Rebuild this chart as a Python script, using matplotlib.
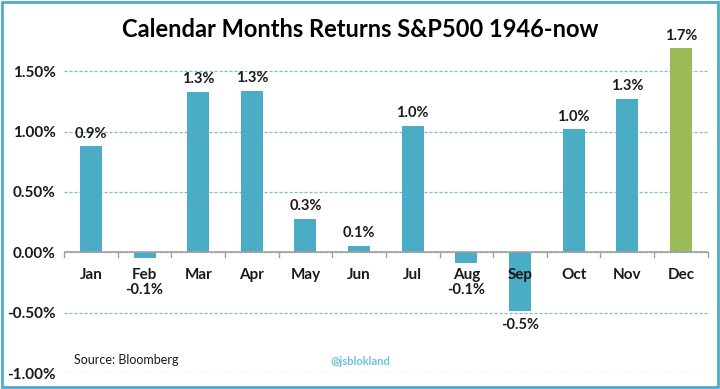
import matplotlib
matplotlib.use('Agg')
import matplotlib.pyplot as plt
from matplotlib.patches import Rectangle

months = ['Jan', 'Feb', 'Mar', 'Apr', 'May', 'Jun', 'Jul', 'Aug', 'Sep', 'Oct', 'Nov', 'Dec']
returns = [0.88, -0.05, 1.33, 1.34, 0.28, 0.055, 1.05, -0.09, -0.49, 1.02, 1.27, 1.69]
labels = ['0.9%', '-0.1%', '1.3%', '1.3%', '0.3%', '0.1%', '1.0%', '-0.1%', '-0.5%', '1.0%', '1.3%', '1.7%']
yticks = [-1.0, -0.5, 0.0, 0.5, 1.0, 1.5]
ytick_labels = ['-1.00%', '-0.50%', '0.00%', '0.50%', '1.00%', '1.50%']

plt.rcParams['font.family'] = ['Lato', 'DejaVu Sans']
blue = '#4BACC6'
green = '#9BBB59'

fig = plt.figure(figsize=(7.2, 3.89), dpi=100)
ax = fig.add_axes([0.089, 0.041, 0.894, 0.869])

colors = [blue] * 11 + [green]
x = list(range(len(months)))
ax.bar(x, returns, width=0.41, color=colors, zorder=3)

ax.set_xlim(-0.5, 11.5)
ax.set_ylim(-1.0, 1.8)
ax.set_yticks(yticks)
ax.set_yticklabels(ytick_labels, fontsize=11, fontweight='bold', color='#1a1a1a')
for t in yticks:
    ax.axhline(t, color='#7cbcd0', lw=0.9, ls=(0, (2.5, 1.5)), zorder=1)
ax.axhline(0, color='#a0a0a0', lw=1.2, zorder=4)

ax.set_xticks([])
for b in range(13):
    ax.plot([b - 0.5, b - 0.5], [0, -0.04], color='#a0a0a0', lw=1, zorder=4, clip_on=False)
for i, m in enumerate(months):
    ax.text(i, -0.13, m, ha='center', va='top', fontsize=11, fontweight='bold', color='#1a1a1a', zorder=5)

for i, (v, lab) in enumerate(zip(returns, labels)):
    if v >= 0:
        ax.annotate(lab, (i, v), xytext=(0, 4), textcoords='offset points',
                    ha='center', va='bottom', fontsize=10.5, fontweight='bold', color='#1a1a1a')
    else:
        ax.annotate(lab, (i, min(v, -0.2)), xytext=(0, -5), textcoords='offset points',
                    ha='center', va='top', fontsize=10.5, fontweight='bold', color='#1a1a1a', zorder=6)

for s in ax.spines.values():
    s.set_visible(False)
ax.tick_params(axis='y', length=0, pad=6)

fig.text(0.5, 0.925, 'Calendar Months Returns S&P500 1946-now', ha='center', va='center',
         fontsize=17, fontweight='bold', color='black')
fig.text(0.103, 0.075, 'Source: Bloomberg', ha='left', va='center', fontsize=9, color='#1a1a1a')
fig.text(0.5, 0.07, '@jsblokland', ha='center', va='center', fontsize=8, fontweight='bold', color='#6cc0dc')

fig.patches.append(Rectangle((0.003, 0.004), 0.994, 0.992, transform=fig.transFigure,
                             fill=False, edgecolor='#4BACC6', lw=2))

fig.savefig('out.png', dpi=100)
